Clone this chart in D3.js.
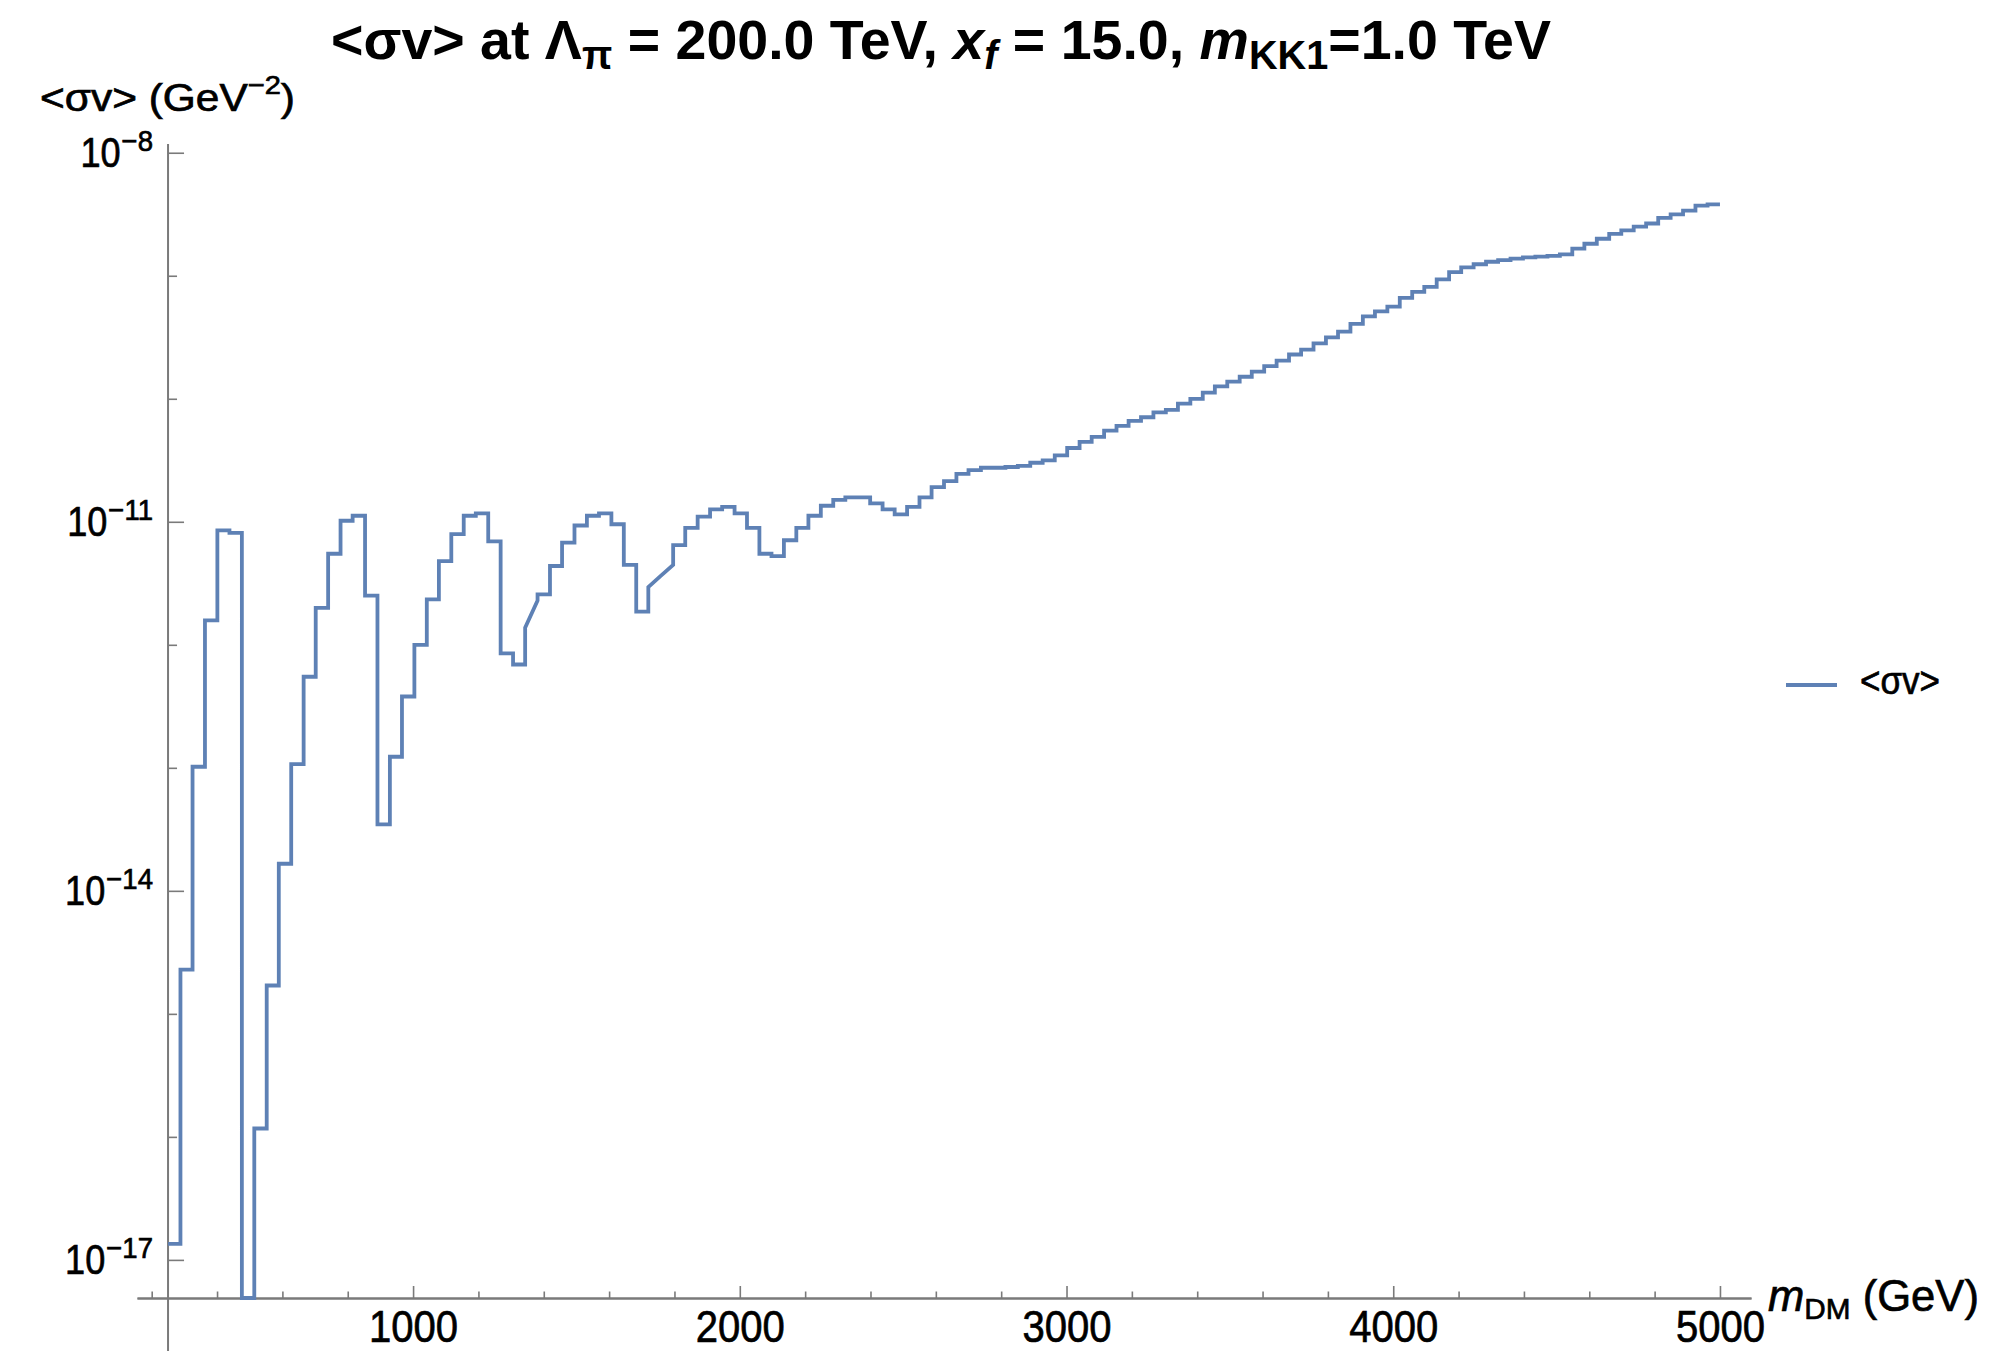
<!DOCTYPE html>
<html><head><meta charset="utf-8">
<script src="https://cdn.jsdelivr.net/npm/d3@7"></script>
<style>
body{margin:0;background:#fff}
svg{display:block}
text{font-family:"Liberation Sans",Arial,Helvetica,sans-serif;fill:#000;white-space:pre}
.heavy{stroke:#000;stroke-width:0.7px}
</style>
</head><body>
<svg id="c" width="1997" height="1351"></svg>
<script>
// ---------------- data ----------------
// step edges of m_DM (GeV)
const massEdges = [250,288,325,363,401,438,476,514,552,589,
  627,665,702,740,778,815,853,891,929,966,
  1004,1042,1079,1117,1155,1192,1230,1268,1306,1343,
  1381,1419,1456,1494,1532,1569,1607,1645,1683,1720,
  1758,1796,1833,1871,1909,1946,1984,2022,2060,2097,
  2135,2173,2210,2248,2286,2323,2361,2399,2437,2474,
  2512,2550,2587,2625,2663,2700,2738,2776,2813,2851,
  2889,2927,2964,3002,3040,3077,3115,3153,3190,3228,
  3266,3304,3341,3379,3417,3454,3492,3530,3567,3605,
  3643,3681,3718,3756,3794,3831,3869,3907,3944,3982,
  4020,4058,4095,4133,4171,4208,4246,4284,4321,4359,
  4397,4435,4472,4510,4548,4585,4623,4661,4698,4736,
  4774,4811,4849,4887,4925,4962,5000];
// <σv> (GeV^-2) on each step
const sigmaV = [1.35e-17,2.29e-15,1.02e-13,1.58e-12,8.51e-12,8.13e-12,2.0e-18,1.17e-16,1.70e-15,1.66e-14,
  1.07e-13,5.50e-13,2.00e-12,5.50e-12,1.02e-11,1.12e-11,2.51e-12,3.47e-14,1.23e-13,3.80e-13,
  1.00e-12,2.34e-12,4.79e-12,7.94e-12,1.12e-11,1.17e-11,6.92e-12,8.51e-13,6.92e-13,1.38e-12,
  2.57e-12,4.37e-12,6.76e-12,9.33e-12,1.12e-11,1.17e-11,9.55e-12,4.47e-12,1.86e-12,2.95e-12,
  3.63e-12,6.46e-12,8.91e-12,1.10e-11,1.26e-11,1.32e-11,1.17e-11,8.91e-12,5.50e-12,5.25e-12,
  7.08e-12,8.91e-12,1.12e-11,1.35e-11,1.51e-11,1.58e-11,1.58e-11,1.41e-11,1.26e-11,1.15e-11,
  1.32e-11,1.58e-11,1.91e-11,2.14e-11,2.45e-11,2.63e-11,2.75e-11,2.75e-11,2.79e-11,2.85e-11,
  3.02e-11,3.16e-11,3.47e-11,3.98e-11,4.47e-11,4.90e-11,5.50e-11,6.03e-11,6.61e-11,7.08e-11,
  7.76e-11,8.13e-11,9.12e-11,1.00e-10,1.12e-10,1.26e-10,1.38e-10,1.51e-10,1.66e-10,1.84e-10,
  2.04e-10,2.29e-10,2.51e-10,2.82e-10,3.16e-10,3.51e-10,4.07e-10,4.68e-10,5.13e-10,5.62e-10,
  6.61e-10,7.41e-10,8.13e-10,9.33e-10,1.07e-9,1.17e-9,1.24e-9,1.30e-9,1.34e-9,1.38e-9,
  1.41e-9,1.43e-9,1.45e-9,1.49e-9,1.66e-9,1.82e-9,2.00e-9,2.19e-9,2.34e-9,2.51e-9,
  2.66e-9,2.95e-9,3.16e-9,3.39e-9,3.72e-9,3.80e-9];
// steps that are drawn as a slanted segment, and the value they reach at their right edge
const rampIndex = [29, 39, 40];
const rampEnd   = [2.29e-12, 3.63e-12, 4.47e-12];

const xTickMajor = [1000, 2000, 3000, 4000, 5000];
const xTickLabels = ["1000", "2000", "3000", "4000", "5000"];
const xTickMinor = [200,400,600,800,1200,1400,1600,1800,2200,2400,2600,2800,3200,3400,3600,3800,4200,4400,4600,4800];
const yTickMajor = [1e-8, 1e-11, 1e-14, 1e-17];
const yTickExp   = ["\u22128", "\u221211", "\u221214", "\u221217"];
const yTickMinor = [1e-9, 1e-10, 1e-12, 1e-13, 1e-15, 1e-16];
const xOrigin = 250;
const seriesName = "<\u03c3v>";

// ---------------- layout ----------------
const svg = d3.select("#c");
const x = d3.scaleLinear().domain([155, 5095]).range([137, 1751]);
const y = d3.scaleLog().domain([4.9e-18, 1.156e-8]).range([1298, 145]).clamp(true);
const axisColor = "#7a7a7a";
const lineColor = "#5e81b5";

// lays out a label made of several pieces (sub/superscripts) as separate texts,
// each squeezed horizontally with a transform so its box stays honest
function rich(px, py, parts, opt){
  opt = opt || {};
  const g = svg.append("g");
  const nodes = [];
  parts.forEach(p=>{
    const t = g.append("text").attr("x", 0).attr("y", py + (p.dy||0))
      .attr("xml:space","preserve")
      .style("font-size", p.size + "px").text(p.t);
    if (p.italic) t.style("font-style","italic");
    if (opt.bold) t.style("font-weight","bold");
    if (opt.cls) t.attr("class", opt.cls);
    const w = t.node().getComputedTextLength();
    nodes.push({t, w, sc: p.sc || 1, gap: p.gap || 0});
  });
  const total = d3.sum(nodes, n=>n.w*n.sc);
  const k = opt.width ? opt.width/total : 1;
  let cur = 0;
  nodes.forEach(n=>{
    cur += n.gap;
    const s = n.sc*k;
    n.t.attr("transform", `translate(${cur},0) scale(${s},1)`);
    cur += n.w*s;
  });
  let sx = px;
  if (opt.anchor === "end") sx = px - cur;
  if (opt.anchor === "middle") sx = px - cur/2;
  g.attr("transform", `translate(${sx},0)`);
  return g;
}

// ---------------- x axis ----------------
const yAxisPos = y.range()[0];
const gxMinor = svg.append("g").attr("transform", `translate(0,${yAxisPos})`)
  .call(d3.axisBottom(x).tickValues(xTickMinor).tickSize(-6.5).tickSizeOuter(0).tickFormat(""));
const gx = svg.append("g").attr("transform", `translate(0,${yAxisPos})`)
  .call(d3.axisBottom(x).tickValues(xTickMajor).tickSize(-12).tickSizeOuter(0)
    .tickFormat((d,i)=>xTickLabels[i]));
[gxMinor, gx].forEach(g=>{
  g.select(".domain").attr("stroke", axisColor).attr("stroke-width", 2);
  g.selectAll(".tick line").attr("stroke", axisColor).attr("stroke-width", 1.6);
});
gx.selectAll(".tick text").attr("y", 44).attr("dy", 0).attr("class","heavy")
  .style("font-size","45px").attr("fill","#000")
  .attr("transform","scale(0.89,1)")
  .attr("x", 0);

// ---------------- y axis ----------------
const xAxisPos = x(xOrigin);
const gyMinor = svg.append("g").attr("transform", `translate(${xAxisPos},0)`)
  .call(d3.axisLeft(y).tickValues(yTickMinor).tickSize(-9).tickSizeOuter(0).tickFormat(""));
const gy = svg.append("g").attr("transform", `translate(${xAxisPos},0)`)
  .call(d3.axisLeft(y).tickValues(yTickMajor).tickSize(-16).tickSizeOuter(0).tickFormat(""));
[gyMinor, gy].forEach(g=>{
  g.select(".domain").remove();
  g.selectAll(".tick line").attr("stroke", axisColor).attr("stroke-width", 1.6);
});
svg.append("line").attr("x1", xAxisPos).attr("x2", xAxisPos)
  .attr("y1", y.range()[1] - 1).attr("y2", 1351)
  .attr("stroke", axisColor).attr("stroke-width", 2);

yTickMajor.forEach((v,i)=>{
  rich(xAxisPos - 15, y(v), [
    {t:"10", size:42, dy:14, sc:0.86},
    {t:yTickExp[i], size:29, dy:-2, sc:0.95, gap:1}
  ], {anchor:"end", cls:"heavy"});
});

// ---------------- series ----------------
const pts = [];
sigmaV.forEach((v,k)=>{
  const r = rampIndex.indexOf(k);
  pts.push([massEdges[k], v]);
  pts.push([massEdges[k+1], r >= 0 ? rampEnd[r] : v]);
});
svg.append("path").datum(pts)
  .attr("fill","none").attr("stroke", lineColor).attr("stroke-width", 3.8)
  .attr("stroke-linejoin","miter")
  .attr("d", d3.line().x(d=>x(d[0])).y(d=>y(d[1])));

// ---------------- title ----------------
rich(331, 59, [
  {t:"<\u03c3v> at \u039b", size:56},
  {t:"\u03c0", size:40, dy:10},
  {t:" = 200.0 TeV, ", size:56},
  {t:"x", size:56, italic:true},
  {t:"f", size:40, dy:10, italic:true},
  {t:" = 15.0, ", size:56},
  {t:"m", size:56, italic:true},
  {t:"KK1", size:40, dy:10},
  {t:"=1.0 TeV", size:56}
], {bold:true, width:1220});

// ---------------- axis labels ----------------
rich(40, 111, [
  {t:"<\u03c3v> (GeV", size:38},
  {t:"\u22122", size:26, dy:-17},
  {t:")", size:38}
], {width:255, cls:"heavy"});

rich(1768, 1311, [
  {t:"m", size:44, italic:true},
  {t:"DM", size:30, dy:8},
  {t:" (GeV)", size:44}
], {width:211, cls:"heavy"});

// ---------------- legend ----------------
const legY = 685;
svg.append("line").attr("x1", 1786).attr("x2", 1837).attr("y1", legY).attr("y2", legY)
  .attr("stroke", lineColor).attr("stroke-width", 3.8);
rich(1860, legY + 9, [{t:seriesName, size:38}], {width:80, cls:"heavy"});
</script>
</body></html>
